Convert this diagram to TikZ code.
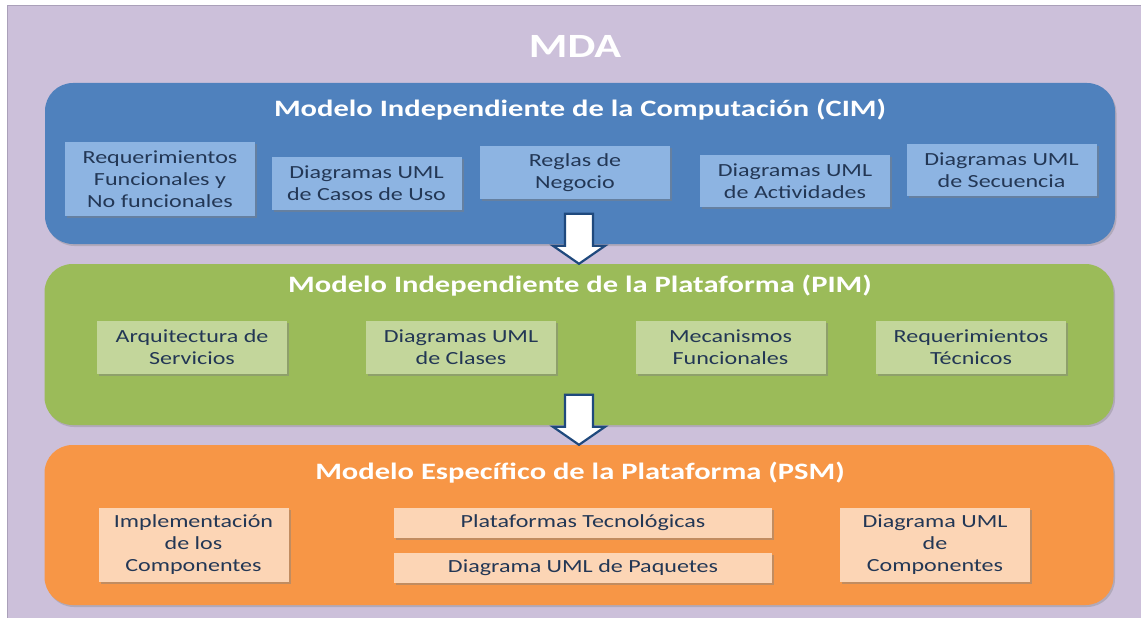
\documentclass[tikz,border=0pt]{standalone}
\usepackage{fontspec}
\setmainfont{Carlito}[FakeStretch=1.3]
\usetikzlibrary{shadows,calc}
\definecolor{mdacolor0000}{RGB}{204,192,218}
\definecolor{mdacolor0001}{RGB}{170,160,185}
\definecolor{mdacolor0002}{RGB}{79,129,189}
\definecolor{mdacolor0003}{RGB}{141,180,226}
\definecolor{mdacolor0004}{RGB}{155,187,89}
\definecolor{mdacolor0005}{RGB}{195,214,155}
\definecolor{mdacolor0006}{RGB}{247,150,70}
\definecolor{mdacolor0007}{RGB}{252,213,181}
\definecolor{mdacolor0008}{RGB}{35,55,85}
\definecolor{mdacolor0009}{RGB}{31,73,125}

\begin{document}
\begin{tikzpicture}[yscale=-1
,panel/.style={rounded corners=28pt,minimum width=1069pt,minimum height=161pt,inner sep=0pt,drop shadow={shadow xshift=1.5pt,shadow yshift=-2pt,opacity=0.35}}
,ptitle/.style={color=white,font=\fontsize{23.5pt}{28pt}\selectfont\bfseries}
,item/.style={color=mdacolor0008,align=center,inner sep=0pt,minimum width=190pt,minimum height=53pt,font=\fontsize{18.5pt}{22pt}\selectfont,drop shadow={shadow xshift=2pt,shadow yshift=-2pt,opacity=0.45}}
,blockarrow/.style={draw=mdacolor0009,fill=white,line width=2.2pt,line join=miter}
]
\useasboundingbox (0pt,0pt) rectangle (1141pt,618pt);
\draw[color=mdacolor0001,fill=mdacolor0000,line width=0.8pt] (7pt,5pt) rectangle (1142pt,619pt);
\node at (575pt,46pt)[color=white,font=\fontsize{34pt}{40pt}\selectfont\bfseries] (mda) {MDA};
\node[panel,fill=mdacolor0002,minimum width=1070pt] (cim) at (580pt,163.5pt) {};
\node[panel,fill=mdacolor0004] (pim) at (579pt,344.5pt) {};
\node[panel,fill=mdacolor0006,minimum height=160pt] (psm) at (579pt,525pt) {};
\node[ptitle] (cimtitle) at (580pt,110pt) {Modelo Independiente de la Computación (CIM)};
\node[ptitle] (pimtitle) at (580pt,286pt) {Modelo Independiente de la Plataforma (PIM)};
\node[ptitle] (psmtitle) at (580pt,473pt) {Modelo Específico de la Plataforma (PSM)};
\node[item,fill=mdacolor0003,minimum height=74pt] (req) at (160pt,179pt) {Requerimientos\\Funcionales y\\No funcionales};
\node[item,fill=mdacolor0003] (casos) at (366.5pt,183.5pt) {Diagramas UML\\de Casos de Uso};
\node[item,fill=mdacolor0003] (reglas) at (575pt,172.5pt) {Reglas de\\Negocio};
\node[item,fill=mdacolor0003,minimum height=52pt] (actividades) at (795pt,181pt) {Diagramas UML\\de Actividades};
\node[item,fill=mdacolor0003,minimum height=52pt] (secuencia) at (1001.5pt,170pt) {Diagramas UML\\de Secuencia};
\node[item,fill=mdacolor0005] (servicios) at (192pt,347pt) {Arquitectura de\\Servicios};
\node[item,fill=mdacolor0005] (clases) at (461pt,347pt) {Diagramas UML\\de Clases};
\node[item,fill=mdacolor0005] (mecanismos) at (730.5pt,347pt) {Mecanismos\\Funcionales};
\node[item,fill=mdacolor0005] (tecnicos) at (971pt,347pt) {Requerimientos\\Técnicos};
\node[item,fill=mdacolor0007,minimum height=74pt] (implementacion) at (193.5pt,545pt) {Implementación\\de los\\Componentes};
\node[item,fill=mdacolor0007,minimum width=378pt,minimum height=30pt] (plataformas) at (583pt,523pt) {Plataformas Tecnológicas};
\node[item,fill=mdacolor0007,minimum width=378pt,minimum height=30pt] (paquetes) at (583pt,567.5pt) {Diagrama UML de Paquetes};
\node[item,fill=mdacolor0007,minimum height=74pt] (componentes) at (935pt,545pt) {Diagrama UML\\de\\Componentes};
\draw[blockarrow] ($(pim.north)+(-14pt,-50pt)$) -- ($(pim.north)+(14pt,-50pt)$) -- ($(pim.north)+(14pt,-18pt)$) -- ($(pim.north)+(26pt,-18pt)$) -- (pim.north) -- ($(pim.north)+(-26pt,-18pt)$) -- ($(pim.north)+(-14pt,-18pt)$) -- cycle;
\draw[blockarrow] ($(psm.north)+(-14pt,-50pt)$) -- ($(psm.north)+(14pt,-50pt)$) -- ($(psm.north)+(14pt,-18pt)$) -- ($(psm.north)+(26pt,-18pt)$) -- (psm.north) -- ($(psm.north)+(-26pt,-18pt)$) -- ($(psm.north)+(-14pt,-18pt)$) -- cycle;
\end{tikzpicture}
\end{document}
